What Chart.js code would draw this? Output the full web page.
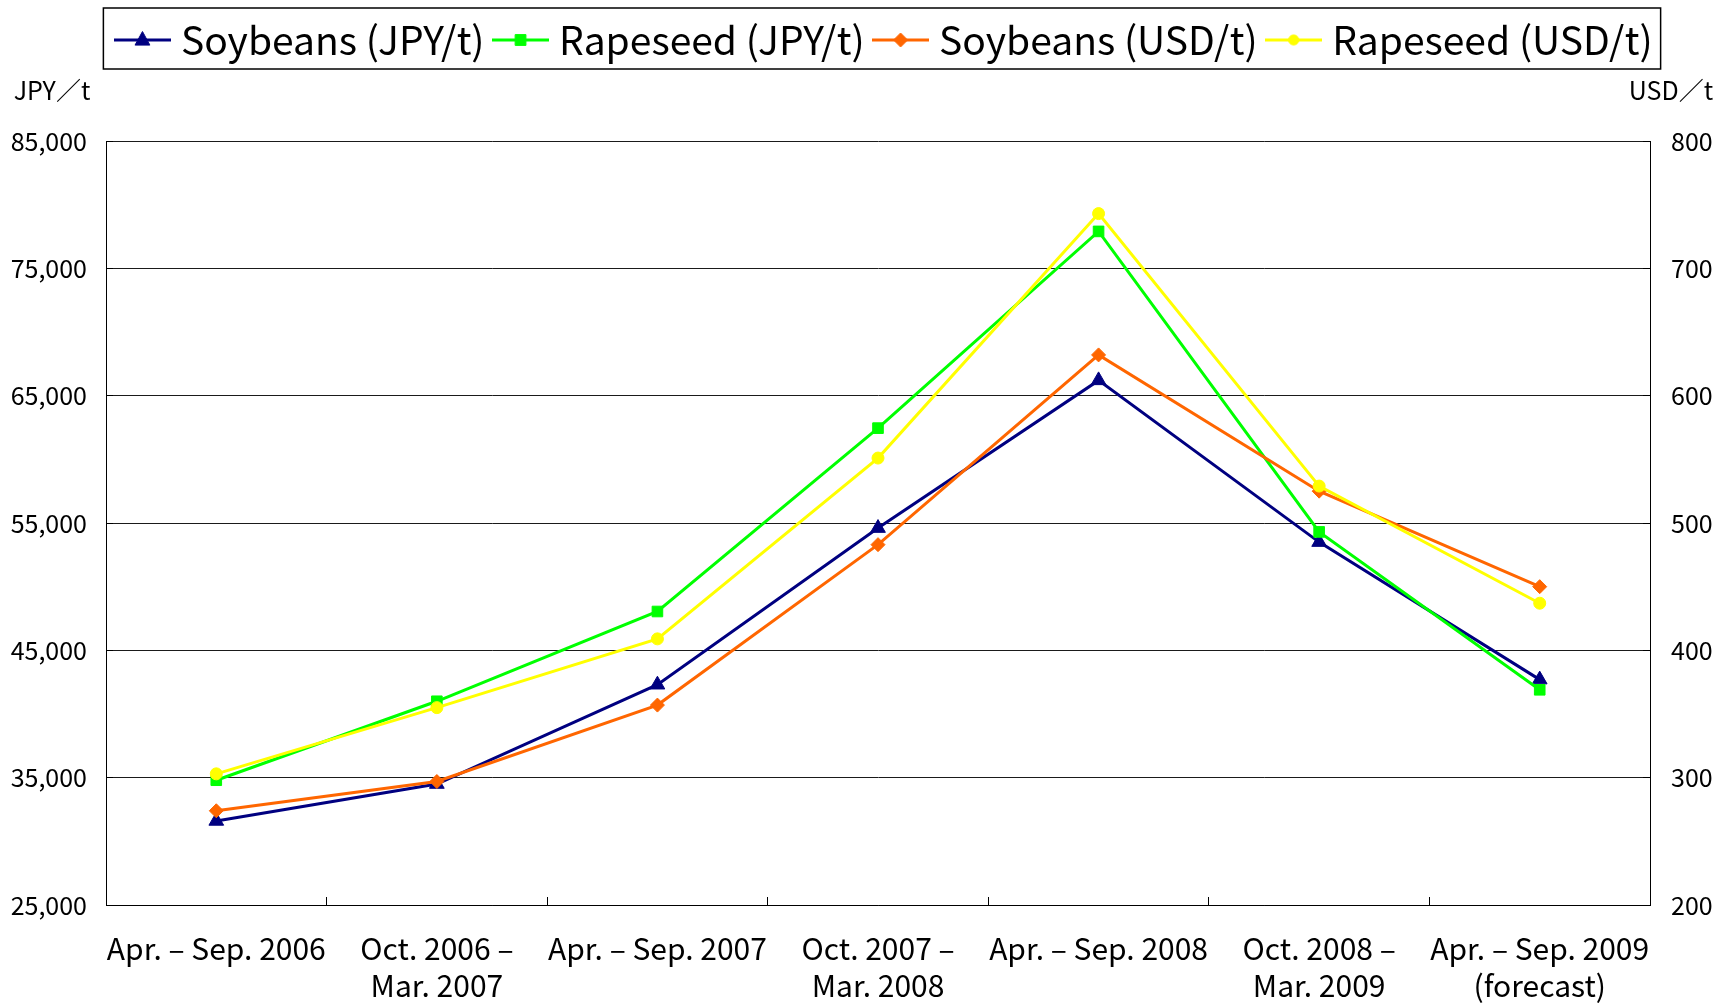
<!DOCTYPE html>
<html><head><meta charset="utf-8">
<script src="https://cdn.jsdelivr.net/npm/chart.js@4.4.1/dist/chart.umd.min.js"></script>
<style>html,body{margin:0;padding:0;background:#fff;}#wrap{width:1718px;height:1003px;position:relative;}</style>
</head><body><div id="wrap"><canvas id="c"></canvas></div>
<script>
const categories = [["Apr. – Sep. 2006"], ["Oct. 2006 –", "Mar. 2007"], ["Apr. – Sep. 2007"], ["Oct. 2007 –", "Mar. 2008"], ["Apr. – Sep. 2008"], ["Oct. 2008 –", "Mar. 2009"], ["Apr. – Sep. 2009", "(forecast)"]];
const seriesNames = ["Soybeans (JPY/t)", "Rapeseed (JPY/t)", "Soybeans (USD/t)", "Rapeseed (USD/t)"];
const soybeansJPY = [31600, 34500, 42300, 54600, 66200, 53500, 42700];
const rapeseedJPY = [34800, 41000, 48050, 62450, 77900, 54300, 41900];
const soybeansUSD = [274, 297, 357, 483, 632, 525, 450];
const rapeseedUSD = [303, 355, 409, 551, 743, 529, 437];
const jpyTicks = [25000, 35000, 45000, 55000, 65000, 75000, 85000];
const usdTicks = [200, 300, 400, 500, 600, 700, 800];
const axisUnits = ["JPY／t", "USD／t"];

const FONT = '"Noto Sans CJK JP", "Liberation Sans", Arial, sans-serif';
Chart.defaults.font.family = FONT;
Chart.defaults.color = '#000';

function makeIcon(color, shape, r) {
  const c = document.createElement('canvas');
  c.width = 57; c.height = 24;
  const g = c.getContext('2d');
  g.strokeStyle = color; g.fillStyle = color; g.lineWidth = 3;
  g.beginPath(); g.moveTo(0, 12); g.lineTo(57, 12); g.stroke();
  const cx = 28.5, cy = 12;
  g.lineWidth = 1;
  g.beginPath();
  if (shape === 'triangle') {
    g.moveTo(cx, cy - r); g.lineTo(cx + r * 0.87, cy + r * 0.6); g.lineTo(cx - r * 0.87, cy + r * 0.6); g.closePath();
  } else if (shape === 'rect') {
    const s = r * 0.72; g.rect(cx - s, cy - s, 2 * s, 2 * s);
  } else if (shape === 'rectRot') {
    g.moveTo(cx, cy - r); g.lineTo(cx + r, cy); g.lineTo(cx, cy + r); g.lineTo(cx - r, cy); g.closePath();
  } else {
    g.arc(cx, cy, r * 0.85, 0, Math.PI * 2);
  }
  g.fill(); g.stroke();
  return c;
}

const colors = ['#000080', '#00FF00', '#FF6600', '#FFFF00'];
const shapes = ['triangle', 'rect', 'rectRot', 'circle'];
const radii = [8.5, 7.5, 7, 6];
const values = [soybeansJPY, rapeseedJPY, soybeansUSD, rapeseedUSD];
const axes = ['y', 'y', 'y1', 'y1'];

const datasets = seriesNames.map((name, i) => ({
  label: name,
  data: values[i],
  yAxisID: axes[i],
  borderColor: colors[i],
  backgroundColor: colors[i],
  borderWidth: 3,
  pointStyle: shapes[i],
  pointRadius: radii[i],
  pointBorderWidth: 1,
  pointBackgroundColor: colors[i],
  pointBorderColor: colors[i],
  tension: 0,
  fill: false,
  order: 4 - i
}));

const LEGEND_SHIFT_X = 29;
const LEGEND_SHIFT_Y = 3.5;
const extras = {
  id: 'extras',
  afterUpdate(chart) {
    const lg = chart.legend;
    lg.left += LEGEND_SHIFT_X;
    lg.right += LEGEND_SHIFT_X;
    lg.top += LEGEND_SHIFT_Y;
    lg.bottom += LEGEND_SHIFT_Y;
    lg.legendHitBoxes.forEach(h => { h.left += LEGEND_SHIFT_X; h.top += LEGEND_SHIFT_Y; });
  },
  afterDraw(chart) {
    const {ctx, chartArea: ca, legend} = chart;
    ctx.save();
    ctx.font = '25px ' + FONT;
    ctx.fillStyle = '#000';
    ctx.textBaseline = 'middle';
    ctx.textAlign = 'center';
    ctx.fillText(axisUnits[0], ca.left - 54, ca.top - 51);
    ctx.fillText(axisUnits[1], ca.right + 21, ca.top - 51);
    const hb = legend.legendHitBoxes;
    const l = Math.min(...hb.map(h => h.left)) - 20;
    const r = Math.max(...hb.map(h => h.left + h.width)) + 8;
    const cy = hb[0].top + hb[0].height / 2;
    ctx.strokeStyle = '#000';
    ctx.lineWidth = 1.5;
    ctx.strokeRect(l, cy - 32, r - l, 61);
    ctx.restore();
  }
};

new Chart(document.getElementById('c'), {
  type: 'line',
  data: { labels: categories, datasets },
  plugins: [extras],
  options: {
    responsive: true,
    maintainAspectRatio: false,
    devicePixelRatio: 1,
    animation: false,
    layout: { padding: { left: 0, right: 0, top: 0, bottom: 0 } },
    plugins: {
      tooltip: { enabled: false },
      title: { display: true, text: ' ', font: { size: 10 }, padding: { top: 0, bottom: 63 } },
      legend: {
        position: 'top',
        weight: 3000,
        fullSize: true,
        labels: {
          usePointStyle: true,
          pointStyleWidth: 38,
          padding: 17,
          color: '#000',
          font: { size: 39, family: FONT },
          generateLabels(chart) {
            return chart.data.datasets.map((ds, i) => ({
              text: ds.label,
              datasetIndex: i,
              pointStyle: makeIcon(colors[i], shapes[i], radii[i]),
              fillStyle: colors[i],
              strokeStyle: colors[i],
              lineWidth: 0,
              hidden: false,
              fontColor: '#000'
            }));
          }
        }
      }
    },
    scales: {
      x: {
        type: 'category',
        offset: true,
        afterFit(s) { s.height = 98; },
        grid: { display: true, offset: true, drawOnChartArea: false, drawTicks: true, tickLength: -8, color: '#000', lineWidth: 1 },
        border: { display: true, color: '#000', width: 1 },
        ticks: { autoSkip: false, maxRotation: 0, minRotation: 0, padding: 33, color: '#000', font: { size: 30, lineHeight: 1.23 } }
      },
      y: {
        position: 'left',
        min: jpyTicks[0],
        max: jpyTicks[jpyTicks.length - 1],
        afterFit(s) { s.width = 106; },
        grid: { color: '#1a1a1a', lineWidth: 1, drawTicks: true, tickLength: -7, tickColor: '#000' },
        border: { display: true, color: '#000', width: 1 },
        ticks: {
          stepSize: jpyTicks[1] - jpyTicks[0],
          padding: 26,
          color: '#000',
          font: { size: 25 },
          callback: v => v.toLocaleString('en-US')
        }
      },
      y1: {
        position: 'right',
        min: usdTicks[0],
        max: usdTicks[usdTicks.length - 1],
        afterFit(s) { s.width = 68; },
        grid: { drawOnChartArea: false, drawTicks: true, tickLength: -7, tickColor: '#000', color: '#000' },
        border: { display: true, color: '#000', width: 1 },
        ticks: { stepSize: usdTicks[1] - usdTicks[0], padding: 28, color: '#000', font: { size: 25 } }
      }
    }
  }
});
</script>
</body></html>
